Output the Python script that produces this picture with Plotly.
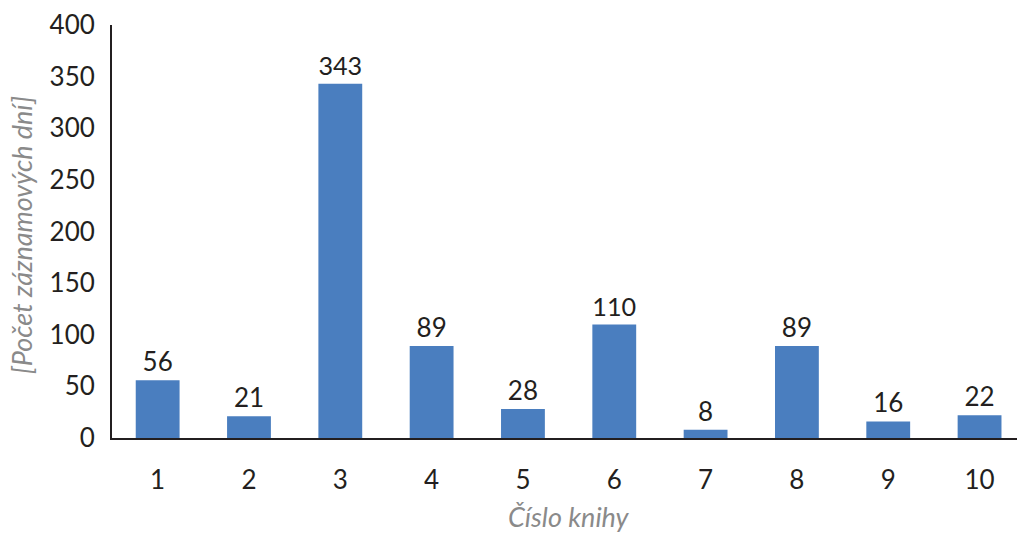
import plotly.graph_objects as go

categories = [1, 2, 3, 4, 5, 6, 7, 8, 9, 10]
values = [56, 21, 343, 89, 28, 110, 8, 89, 16, 22]
y_ticks = [0, 50, 100, 150, 200, 250, 300, 350, 400]

FONT = "Lato"
TXT = "#231f20"
BLUE = "#4a7ebf"
GRAY = "#8a8a8a"

fig = go.Figure(go.Bar(
    x=categories, y=values, width=0.48,
    marker=dict(color=BLUE, line=dict(width=0)),
    text=[str(v) for v in values], textposition="outside",
    textfont=dict(family=FONT, size=26, color=TXT),
    cliponaxis=False,
))

fig.update_layout(
    width=1017, height=534,
    margin=dict(l=112, r=0, t=25, b=96),
    paper_bgcolor="white", plot_bgcolor="white",
    showlegend=False,
    font=dict(family=FONT, size=26, color=TXT),
    bargap=0.5,
)
fig.update_xaxes(
    range=[0.5, 10.41], tickmode="array", tickvals=categories,
    ticktext=[str(c) for c in categories],
    showgrid=False, zeroline=False, showline=True, linecolor="#231f20", linewidth=2,
    ticks="", ticklabelstandoff=18,
    tickfont=dict(family=FONT, size=26, color=TXT),
)
fig.update_yaxes(
    range=[0, 400], tickmode="array", tickvals=y_ticks,
    showgrid=False, zeroline=False, showline=True, linecolor="#231f20", linewidth=2,
    ticks="", ticklabelstandoff=10,
    tickfont=dict(family=FONT, size=26, color=TXT),
)
fig.add_annotation(
    text="Číslo knihy", xref="paper", yref="paper", x=0.505, y=-0.19,
    xanchor="center", yanchor="middle", showarrow=False,
    font=dict(family=FONT, size=27, color=GRAY, style="italic"),
)
fig.add_annotation(
    text="[Počet záznamových dní]", xref="paper", yref="paper",
    x=-0.1, y=0.49, xanchor="center", yanchor="middle",
    textangle=-90, showarrow=False,
    font=dict(family=FONT, size=27, color=GRAY, style="italic"),
)
fig.write_html("out.html")
